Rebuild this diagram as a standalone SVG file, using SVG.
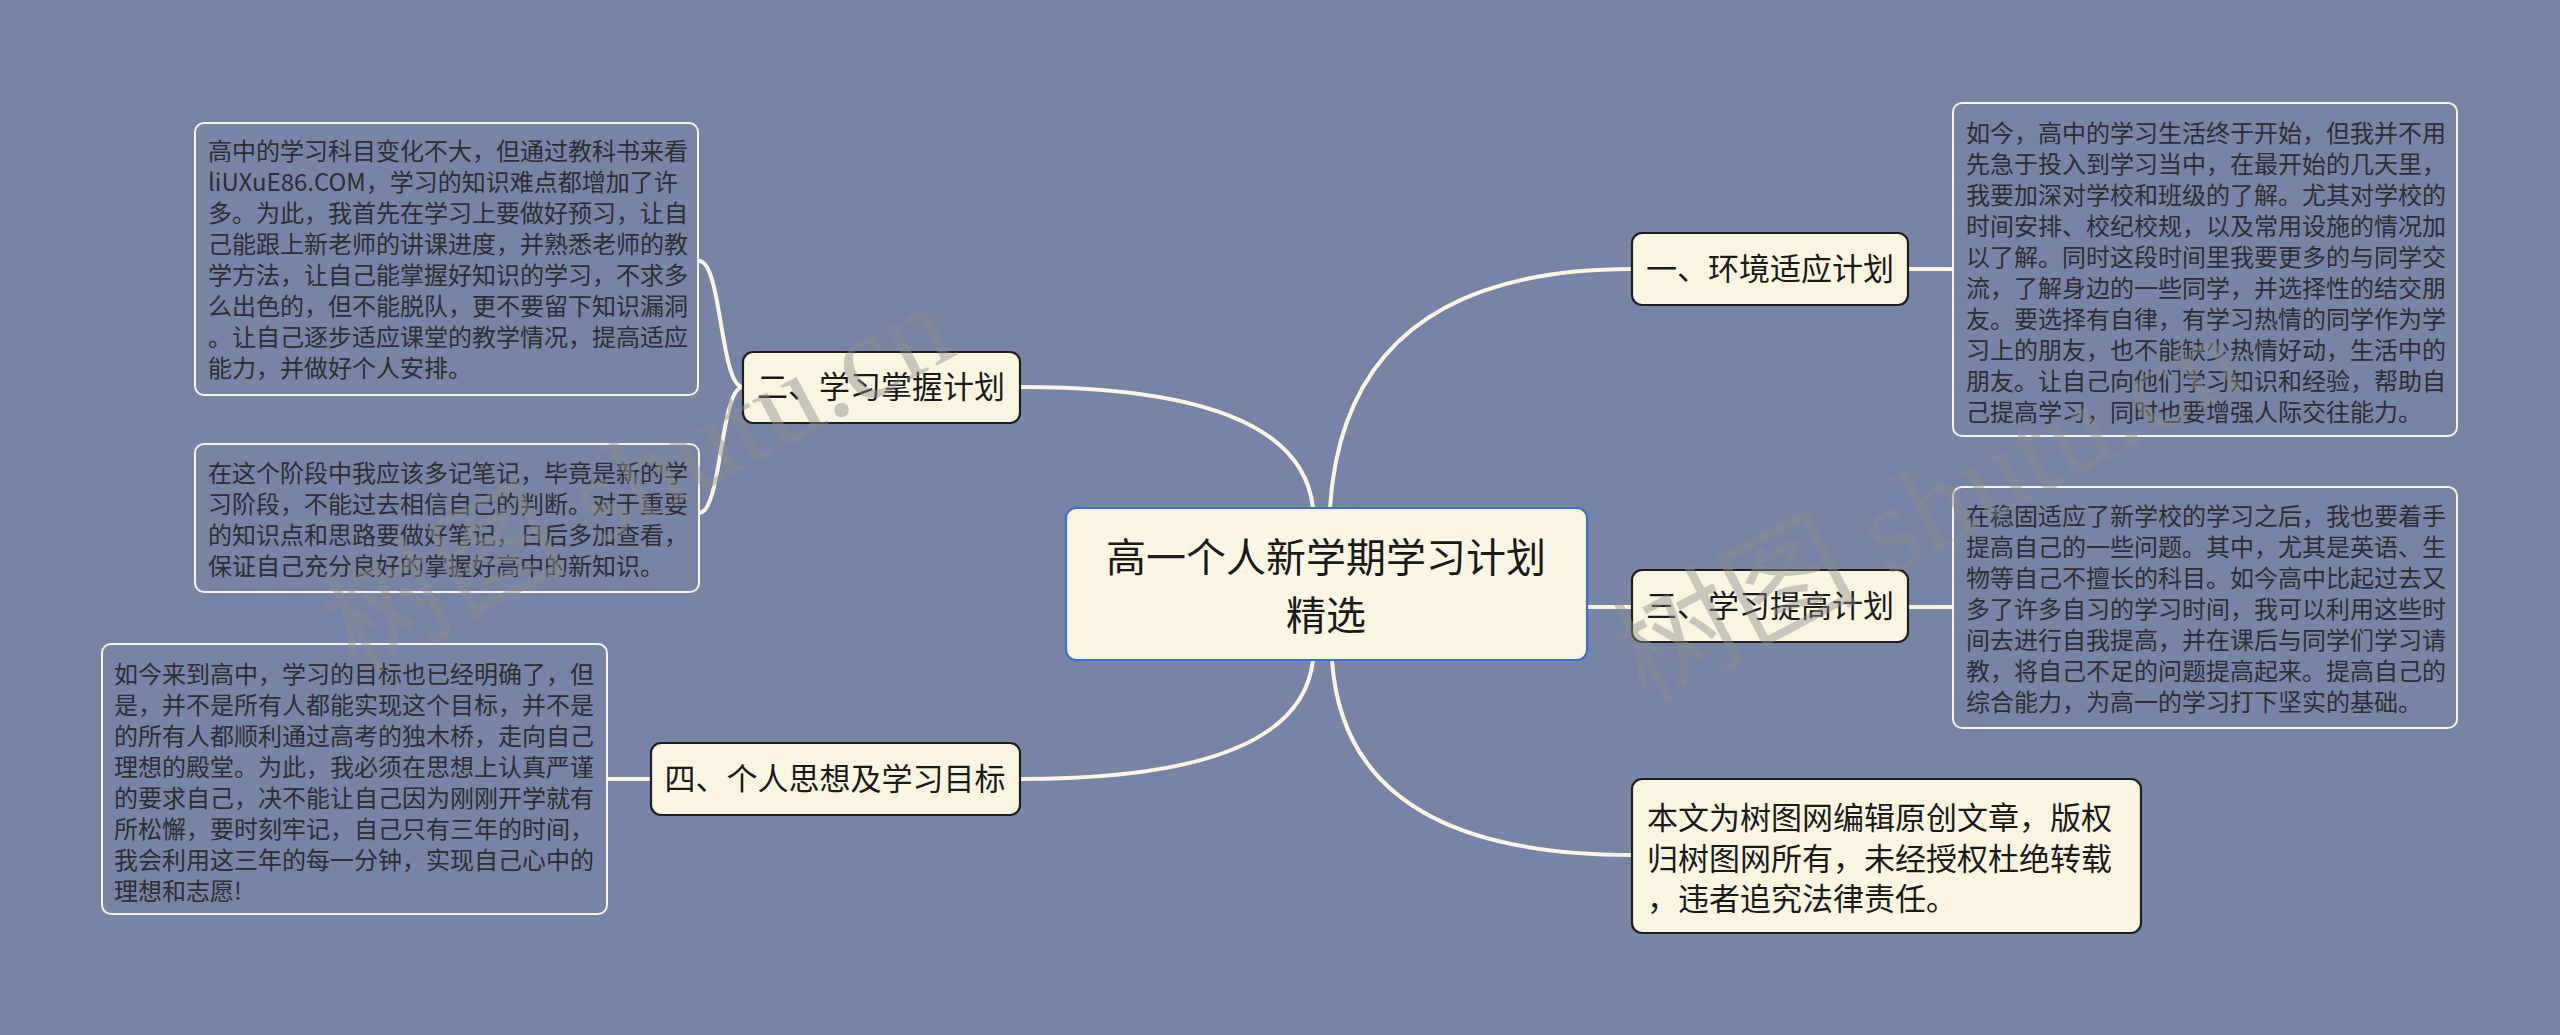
<svg xmlns="http://www.w3.org/2000/svg" width="2560" height="1035" viewBox="0 0 2560 1035">
<style>
.bg{fill:#7784A5}
.conn{fill:none;stroke:#FAF5E3;stroke-width:4;stroke-linecap:round}
.leaf{fill:#7784A5;stroke:#F4F2EA;stroke-width:2}
.topic{fill:#FAF5E1;stroke:#1E1E1E;stroke-width:2.2}
.root{fill:#FAF6E3;stroke:#3C6FD2;stroke-width:2.2}
.lt{font-family:"Noto Sans CJK SC","Noto Sans",sans-serif;font-size:24px;fill:#2E2E33}
.tt{font-family:"Noto Sans CJK SC","Noto Sans",sans-serif;font-size:31px;fill:#1A1A1A}
.rt{font-family:"Noto Sans CJK SC","Noto Sans",sans-serif;font-size:40px;fill:#1A1A1A}
.wm{font-family:"Liberation Serif","Noto Sans CJK SC",serif;font-size:122px;fill:#8E8E8E;fill-opacity:0.45}
</style>
<rect class="bg" x="0" y="0" width="2560" height="1035"/>

<g id="connectors">
  <path class="conn" d="M1330 508 Q1345 269 1632 269"/>
  <path class="conn" d="M1587 607 L1632 607"/>
  <path class="conn" d="M1332 660 Q1345 855 1632 855"/>
  <path class="conn" d="M1313 508 Q1300 387 1020 387"/>
  <path class="conn" d="M1313 660 Q1300 779 1020 779"/>
  <path class="conn" d="M743 387 C720 387 722 261 699 261"/>
  <path class="conn" d="M743 387 C720 387 722 513 699 513"/>
  <path class="conn" d="M651 779 L607 779"/>
  <path class="conn" d="M1908 269 L1953 269"/>
  <path class="conn" d="M1908 607 L1953 607"/>
</g>

<g id="root">
  <rect class="root" x="1066" y="508" width="521" height="152" rx="10"/>
  <text class="rt" text-anchor="middle"><tspan x="1326" y="572">高一个人新学期学习计划</tspan><tspan x="1326" y="630">精选</tspan></text>
</g>

<g id="topic1">
  <rect class="topic" x="1632" y="233" width="276" height="72" rx="10"/>
  <text class="tt" x="1770" y="280" text-anchor="middle">一、环境适应计划</text>
</g>
<g id="topic2">
  <rect class="topic" x="743" y="352" width="277" height="71" rx="10"/>
  <text class="tt" x="881" y="398" text-anchor="middle">二、学习掌握计划</text>
</g>
<g id="topic3">
  <rect class="topic" x="1632" y="570" width="276" height="72" rx="10"/>
  <text class="tt" x="1770" y="617" text-anchor="middle">三、学习提高计划</text>
</g>
<g id="topic4">
  <rect class="topic" x="651" y="743" width="369" height="72" rx="10"/>
  <text class="tt" x="835" y="790" text-anchor="middle">四、个人思想及学习目标</text>
</g>
<g id="topic5">
  <rect class="topic" x="1632" y="779" width="509" height="154" rx="10"/>
  <text class="tt"><tspan x="1647" y="829">本文为树图网编辑原创文章，版权</tspan><tspan x="1647" y="870">归树图网所有，未经授权杜绝转载</tspan><tspan x="1647" y="910">，违者追究法律责任。</tspan></text>
</g>

<g id="leaf1">
  <rect class="leaf" x="195" y="123" width="503" height="272" rx="9"/>
  <text class="lt"><tspan x="208" y="160">高中的学习科目变化不大，但通过教科书来看</tspan><tspan x="208" y="191">liUXuE86.COM，学习的知识难点都增加了许</tspan><tspan x="208" y="222">多。为此，我首先在学习上要做好预习，让自</tspan><tspan x="208" y="253">己能跟上新老师的讲课进度，并熟悉老师的教</tspan><tspan x="208" y="284">学方法，让自己能掌握好知识的学习，不求多</tspan><tspan x="208" y="315">么出色的，但不能脱队，更不要留下知识漏洞</tspan><tspan x="208" y="346">。让自己逐步适应课堂的教学情况，提高适应</tspan><tspan x="208" y="377">能力，并做好个人安排。</tspan></text>
</g>
<g id="leaf2">
  <rect class="leaf" x="195" y="444" width="504" height="148" rx="9"/>
  <text class="lt"><tspan x="208" y="482">在这个阶段中我应该多记笔记，毕竟是新的学</tspan><tspan x="208" y="513">习阶段，不能过去相信自己的判断。对于重要</tspan><tspan x="208" y="544">的知识点和思路要做好笔记，日后多加查看，</tspan><tspan x="208" y="575">保证自己充分良好的掌握好高中的新知识。</tspan></text>
</g>
<g id="leaf3">
  <rect class="leaf" x="102" y="644" width="505" height="270" rx="9"/>
  <text class="lt"><tspan x="114" y="683">如今来到高中，学习的目标也已经明确了，但</tspan><tspan x="114" y="714">是，并不是所有人都能实现这个目标，并不是</tspan><tspan x="114" y="745">的所有人都顺利通过高考的独木桥，走向自己</tspan><tspan x="114" y="776">理想的殿堂。为此，我必须在思想上认真严谨</tspan><tspan x="114" y="807">的要求自己，决不能让自己因为刚刚开学就有</tspan><tspan x="114" y="838">所松懈，要时刻牢记，自己只有三年的时间，</tspan><tspan x="114" y="869">我会利用这三年的每一分钟，实现自己心中的</tspan><tspan x="114" y="900">理想和志愿!</tspan></text>
</g>
<g id="leaf4">
  <rect class="leaf" x="1953" y="103" width="504" height="333" rx="9"/>
  <text class="lt"><tspan x="1966" y="142">如今，高中的学习生活终于开始，但我并不用</tspan><tspan x="1966" y="173">先急于投入到学习当中，在最开始的几天里，</tspan><tspan x="1966" y="204">我要加深对学校和班级的了解。尤其对学校的</tspan><tspan x="1966" y="235">时间安排、校纪校规，以及常用设施的情况加</tspan><tspan x="1966" y="266">以了解。同时这段时间里我要更多的与同学交</tspan><tspan x="1966" y="297">流，了解身边的一些同学，并选择性的结交朋</tspan><tspan x="1966" y="328">友。要选择有自律，有学习热情的同学作为学</tspan><tspan x="1966" y="359">习上的朋友，也不能缺少热情好动，生活中的</tspan><tspan x="1966" y="390">朋友。让自己向他们学习知识和经验，帮助自</tspan><tspan x="1966" y="421">己提高学习，同时也要增强人际交往能力。</tspan></text>
</g>
<g id="leaf5">
  <rect class="leaf" x="1953" y="487" width="504" height="241" rx="9"/>
  <text class="lt"><tspan x="1966" y="525">在稳固适应了新学校的学习之后，我也要着手</tspan><tspan x="1966" y="556">提高自己的一些问题。其中，尤其是英语、生</tspan><tspan x="1966" y="587">物等自己不擅长的科目。如今高中比起过去又</tspan><tspan x="1966" y="618">多了许多自习的学习时间，我可以利用这些时</tspan><tspan x="1966" y="649">间去进行自我提高，并在课后与同学们学习请</tspan><tspan x="1966" y="680">教，将自己不足的问题提高起来。提高自己的</tspan><tspan x="1966" y="711">综合能力，为高一的学习打下坚实的基础。</tspan></text>
</g>

<g id="watermarks">
  <text class="wm" x="355" y="675" transform="rotate(-28 355 675)">树图 shutu.cn</text>
  <text class="wm" x="1645" y="705" transform="rotate(-28 1645 705)">树图 shutu.cn</text>
</g>
</svg>
